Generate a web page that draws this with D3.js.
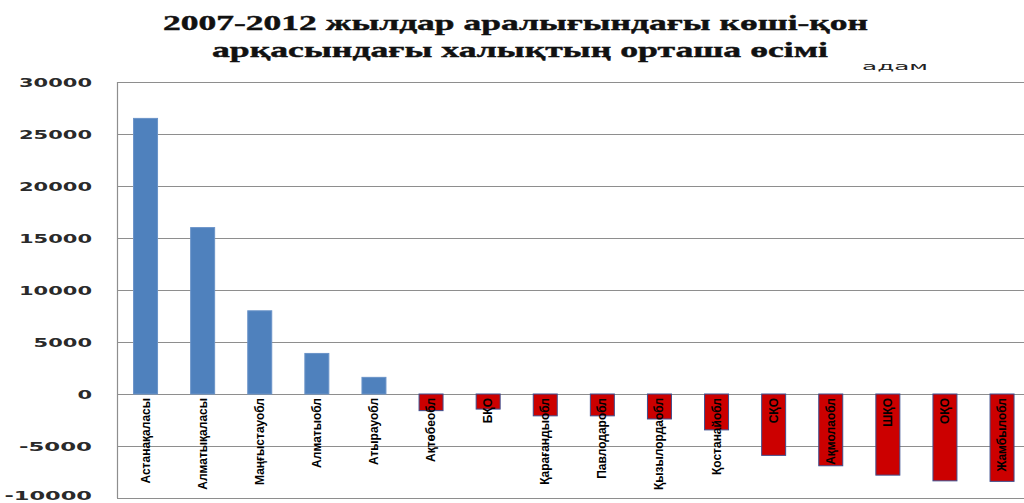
<!DOCTYPE html>
<html>
<head>
<meta charset="utf-8">
<script src="https://cdn.jsdelivr.net/npm/d3@7"></script>
<style>
  html, body { margin: 0; padding: 0; background: #fff; }
  svg { display: block; }
</style>
</head>
<body>
<svg id="chart" width="1024" height="503"></svg>
<script>
// ---- data ----
const categories = [
  "Астанақаласы", "Алматықаласы", "Маңғыстауобл", "Алматыобл", "Атырауобл",
  "Ақтөбеобл", "БҚО", "Қарағандыобл", "Павлодаробл", "Қызылордаобл",
  "Қостанайобл", "СҚО", "Ақмолаобл", "ШҚО", "ОҚО", "Жамбылобл"
];
const values = [
  26500, 16000, 8000, 3900, 1600,
  -1600, -1450, -2100, -2100, -2400,
  -3450, -5900, -6900, -7800, -8350, -8400
];
const yTicks = [30000, 25000, 20000, 15000, 10000, 5000, 0, -5000, -10000];
const titleLines = ["2007-2012 жылдар аралығындағы көші-қон", "арқасындағы халықтың орташа өсімі"];
const unitLabel = "адам";

// ---- layout ----
const svg = d3.select("#chart");
const plot = { left: 117, right: 1030.6, top: 82, bottom: 498 };

const x = d3.scaleBand()
  .domain(categories)
  .range([plot.left, plot.right])
  .paddingInner(0.58)
  .paddingOuter(0.29);

const y = d3.scaleLinear()
  .domain([-10000, 30000])
  .range([plot.bottom, plot.top]);

// gridlines
svg.append("g")
  .selectAll("line")
  .data(yTicks)
  .join("line")
  .attr("x1", plot.left)
  .attr("x2", plot.right)
  .attr("y1", d => Math.round(y(d)) + 0.5)
  .attr("y2", d => Math.round(y(d)) + 0.5)
  .attr("stroke", "#8e8e8e")
  .attr("stroke-width", 1.2);

// left border
svg.append("line")
  .attr("x1", plot.left + 0.5).attr("x2", plot.left + 0.5)
  .attr("y1", y(30000)).attr("y2", y(-10000))
  .attr("stroke", "#8e8e8e").attr("stroke-width", 1.2);

// y tick labels
const yAxis = d3.axisLeft(y).tickValues(yTicks).tickSize(0).tickFormat(d => String(d));
const yg = svg.append("g")
  .attr("transform", `translate(92,0)`)
  .call(yAxis);
yg.select(".domain").remove();
yg.selectAll("text")
  .attr("x", 0)
  .attr("dy", d => d === -10000 ? "0.1em" : "0.35em")
  .attr("fill", "#2a2a2a")
  .style("font-family", "'DejaVu Sans', Verdana, sans-serif")
  .style("font-weight", "bold")
  .style("font-size", "13px")
  .attr("textLength", d => String(d).length * 14.6)
  .attr("lengthAdjust", "spacingAndGlyphs");

// bars
svg.append("g")
  .selectAll("rect")
  .data(values.map((v, i) => ({ cat: categories[i], v })))
  .join("rect")
  .attr("x", d => x(d.cat))
  .attr("width", x.bandwidth())
  .attr("y", d => y(Math.max(0, d.v)))
  .attr("height", d => Math.abs(y(d.v) - y(0)))
  .attr("fill", d => d.v >= 0 ? "#4f81bd" : "#cc0000")
  .attr("stroke", d => d.v >= 0 ? "#6a93c8" : "#3d4f8f")
  .attr("stroke-width", 1);

// category labels (rotated, reading bottom-to-top, ending at the axis)
svg.append("g")
  .selectAll("text")
  .data(categories)
  .join("text")
  .attr("transform", d => `translate(${x(d) + x.bandwidth() / 2 + 4},${y(0) + 4}) rotate(-90)`)
  .attr("text-anchor", "end")
  .attr("fill", "#000")
  .style("font-family", "'Liberation Sans Narrow', 'Arial Narrow', 'Liberation Sans', sans-serif")
  .style("font-weight", "bold")
  .style("font-size", "12px")
  .text(d => d);

// title
svg.append("g")
  .selectAll("text")
  .data(titleLines)
  .join("text")
  .attr("x", (d, i) => i === 0 ? 515.5 : 520)
  .attr("y", (d, i) => i === 0 ? 30 : 57)
  .attr("text-anchor", "middle")
  .attr("fill", "#111")
  .attr("stroke", "#111")
  .attr("stroke-width", 0.4)
  .style("font-family", "'Liberation Serif', 'Times New Roman', serif")
  .style("font-weight", "bold")
  .style("font-size", "21px")
  .attr("textLength", (d, i) => i === 0 ? 705 : 616)
  .attr("lengthAdjust", "spacingAndGlyphs")
  .text(d => d);

// unit label
svg.append("text")
  .attr("x", 862)
  .attr("y", 70)
  .attr("fill", "#222")
  .style("font-family", "'DejaVu Sans', Verdana, sans-serif")
  .style("font-size", "11px")
  .attr("textLength", 66)
  .attr("lengthAdjust", "spacingAndGlyphs")
  .text(unitLabel);
</script>
</body>
</html>
